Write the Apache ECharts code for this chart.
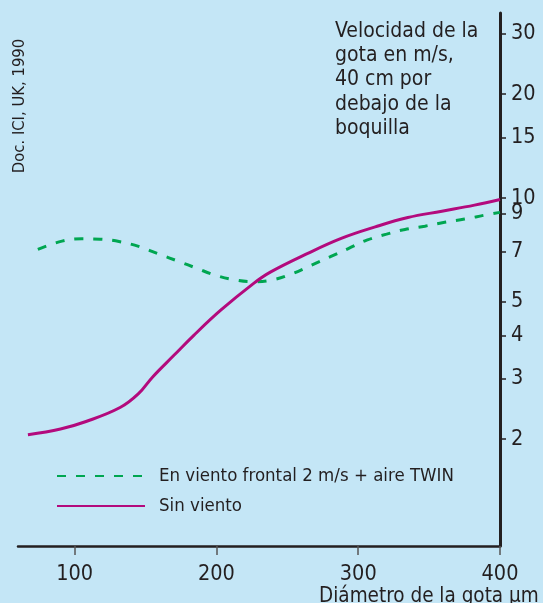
<!DOCTYPE html>
<html><head><meta charset="utf-8">
<script src="https://cdn.jsdelivr.net/npm/echarts@6/dist/echarts.min.js"></script>
<style>html,body{margin:0;padding:0;background:#c4e6f6}#c{width:543px;height:603px}</style>
</head><body><div id="c"></div>
<script>
const FONT = "'DejaVu Sans Condensed', 'Liberation Sans', sans-serif";
const xTicks = [100, 200, 300, 400];
const yTicks = [2, 3, 4, 5, 7, 9, 10, 15, 20, 30];
const sinVientoX = [67, 90, 108, 132, 145, 155, 170, 184, 203, 226, 238, 264, 288, 312, 335, 359, 382, 400];
const sinVientoY = [2.06, 2.14, 2.25, 2.47, 2.71, 3.03, 3.5, 4.0, 4.73, 5.65, 6.1, 6.9, 7.64, 8.25, 8.78, 9.16, 9.54, 9.9];
const twinX = [74, 91, 105, 118, 132, 146, 159, 173, 186, 199, 213, 227, 241, 254, 267, 280, 293, 306, 320, 333, 347, 361, 375, 389, 400];
const twinY = [7.1, 7.5, 7.62, 7.6, 7.47, 7.22, 6.89, 6.56, 6.26, 5.98, 5.79, 5.72, 5.81, 6.05, 6.39, 6.75, 7.14, 7.55, 7.86, 8.11, 8.29, 8.51, 8.69, 8.92, 9.09];
const seriesNames = ['En viento frontal 2 m/s + aire TWIN', 'Sin viento'];
const titleLines = ['Velocidad de la', 'gota en m/s,', '40 cm por', 'debajo de la', 'boquilla'];
const xName = 'Diámetro de la gota µm';
const sourceText = 'Doc. ICI, UK, 1990';

const zip = (xs, ys) => xs.map((x, i) => [x, ys[i]]);
const chart = echarts.init(document.getElementById('c'), null, {renderer: 'canvas'});
chart.setOption({
  backgroundColor: '#c4e6f6',
  animation: false,
  textStyle: {fontFamily: FONT, color: '#231f20'},
  grid: {left: 18, right: 43, top: 13, bottom: 57, containLabel: false, outerBoundsMode: 'none'},
  xAxis: {
    type: 'value', min: 60, max: 400,
    splitLine: {show: false},
    axisLine: {show: true, onZero: false, lineStyle: {color: '#231f20', width: 2.5}},
    axisTick: {show: true, customValues: xTicks, length: 9, lineStyle: {color: '#555', width: 1.5}},
    axisLabel: {customValues: xTicks, fontSize: 21.5, margin: 17, color: '#231f20', fontFamily: FONT}
  },
  yAxis: {
    type: 'log', logBase: 10, min: 0.98, max: 34.4, position: 'right',
    splitLine: {show: false},
    axisLine: {show: true, lineStyle: {color: '#231f20', width: 3}},
    axisTick: {show: true, customValues: yTicks, length: 6, lineStyle: {color: '#231f20', width: 1.5}},
    axisLabel: {customValues: yTicks, fontSize: 21.5, margin: 11, color: '#231f20', fontFamily: FONT}
  },
  legend: {
    orient: 'vertical', left: 51, top: 461, itemWidth: 88, itemHeight: 14, itemGap: 10,
    itemStyle: {opacity: 0, color: 'transparent', borderWidth: 0},
    textStyle: {fontSize: 18.5, fontFamily: FONT, color: '#231f20', lineHeight: 20, padding: [0, 0, 0, 9]},
    data: seriesNames
  },
  graphic: [
    {type: 'text', left: 335, top: 19, style: {text: titleLines.join('\n'), font: '21px ' + FONT, lineHeight: 24.3, fill: '#231f20'}},
    {type: 'text', x: 20, y: 106, rotation: Math.PI / 2, style: {text: sourceText, font: '16.5px ' + FONT, fill: '#231f20', align: 'center', verticalAlign: 'middle'}},
    {type: 'text', left: 319, top: 586, style: {text: xName, font: '20.5px ' + FONT, fill: '#231f20'}}
  ],
  series: [
    {name: seriesNames[0], type: 'line', data: zip(twinX, twinY), smooth: 0.4, symbol: 'none',
     lineStyle: {color: '#00a651', width: 3, type: [9, 10]}, itemStyle: {color: '#00a651'}},
    {name: seriesNames[1], type: 'line', data: zip(sinVientoX, sinVientoY), smooth: 0.4, symbol: 'none',
     lineStyle: {color: '#b30a7d', width: 3}, itemStyle: {color: '#b30a7d'}}
  ]
});
</script></body></html>
